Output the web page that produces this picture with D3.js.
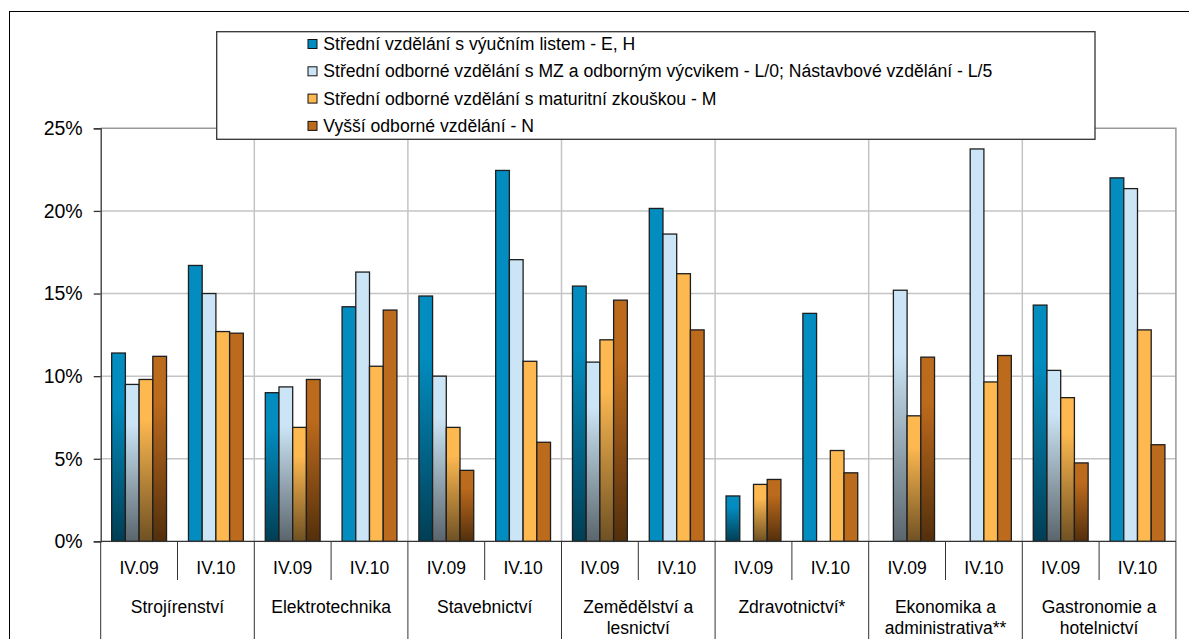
<!DOCTYPE html>
<html>
<head>
<meta charset="utf-8">
<script src="https://cdn.jsdelivr.net/npm/d3@7"></script>
<style>
  body { margin: 0; background: #fff; }
  svg { display: block; font-family: "Liberation Sans", Arial, sans-serif; }
</style>
</head>
<body>
<div id="chart"></div>
<script>
// data (values in %)
var groups = ["Strojírenství", "Elektrotechnika", "Stavebnictví", "Zemědělství a\nlesnictví",
              "Zdravotnictví*", "Ekonomika a\nadministrativa**", "Gastronomie a\nhotelnictví"];
var periods = ["IV.09", "IV.10"];
var seriesNames = [
    "Střední vzdělání s výučním listem - E, H",
    "Střední odborné vzdělání s MZ a odborným výcvikem - L/0; Nástavbové vzdělání - L/5",
    "Střední odborné vzdělání s maturitní zkouškou - M",
    "Vyšší odborné vzdělání - N"
];
// one value per group/period pair, in group order: IV.09, IV.10, IV.09, IV.10 ...
var seriesEH  = [11.4, 16.7, 9.0, 14.2, 14.85, 22.45, 15.45, 20.15, 2.75, 13.8, null, null, 14.3, 22.0];
var seriesL   = [9.5, 15.0, 9.35, 16.3, 10.0, 17.05, 10.85, 18.6, null, null, 15.2, 23.75, 10.35, 21.35];
var seriesM   = [9.8, 12.7, 6.9, 10.6, 6.9, 10.9, 12.2, 16.2, 3.45, 5.5, 7.6, 9.65, 8.7, 12.8];
var seriesN   = [11.2, 12.6, 9.8, 14.0, 4.3, 6.0, 14.6, 12.8, 3.75, 4.15, 11.15, 11.25, 4.75, 5.85];
var yTicks = [0, 5, 10, 15, 20, 25];

var colors = ["#028cbf", "#cce5f6", "#fdb850", "#bc6a1c"];

(function() {
    var seriesValues = [seriesEH, seriesL, seriesM, seriesN];

    var width = 1189, height = 639;
    var plotLeft = 100.7, plotRight = 1175.9, plotTop = 128.3, plotBottom = 541.4;

    var svg = d3.select("#chart").append("svg")
        .attr("width", width).attr("height", height);

    // IV.09 bars fade to dark at the bottom
    var defs = svg.append("defs");
    colors.forEach(function(c, i) {
        var g = defs.append("linearGradient").attr("id", "grad" + i)
            .attr("x1", 0).attr("y1", 0).attr("x2", 0).attr("y2", 1);
        g.append("stop").attr("offset", "0%").attr("stop-color", c);
        g.append("stop").attr("offset", "25%").attr("stop-color", c);
        g.append("stop").attr("offset", "100%").attr("stop-color", d3.color(c).darker(2.3));
    });

    // outer chart frame (cut by the picture's right and bottom edge)
    svg.append("rect")
        .attr("x", 9.5).attr("y", 11.5).attr("width", 1300).attr("height", 800)
        .attr("fill", "none").attr("stroke", "#000").attr("stroke-width", 1);

    var x0 = d3.scaleBand().domain(groups).range([plotLeft, plotRight]);
    var x1 = d3.scaleBand().domain(periods).range([0, x0.bandwidth()]);
    var x2 = d3.scaleBand().domain(d3.range(seriesNames.length))
        .range([0, x1.bandwidth()]).paddingOuter(0.8);
    var y = d3.scaleLinear().domain([0, 25]).range([plotBottom, plotTop]);

    // horizontal gridlines
    svg.append("g").selectAll("line")
        .data(yTicks.filter(function(d) { return d > 0 && d < 25; }))
        .join("line")
        .attr("x1", plotLeft).attr("x2", plotRight)
        .attr("y1", function(d) { return y(d); }).attr("y2", function(d) { return y(d); })
        .attr("stroke", "#c4c4c4").attr("stroke-width", 1.5);

    // vertical gridlines between groups
    svg.append("g").selectAll("line")
        .data(groups.slice(1))
        .join("line")
        .attr("x1", function(d) { return x0(d); }).attr("x2", function(d) { return x0(d); })
        .attr("y1", plotTop).attr("y2", plotBottom)
        .attr("stroke", "#c4c4c4").attr("stroke-width", 1.5);

    // plot area border (top, right)
    svg.append("path")
        .attr("d", "M" + plotLeft + "," + plotTop + "H" + plotRight + "V" + plotBottom)
        .attr("fill", "none").attr("stroke", "#999").attr("stroke-width", 1.5);

    // bars
    var cells = [];
    groups.forEach(function(g, gi) {
        periods.forEach(function(p, pi) {
            seriesValues.forEach(function(vals, si) {
                var v = vals[gi * 2 + pi];
                if (v != null) cells.push({ group: g, period: p, series: si, value: v, grad: pi === 0 });
            });
        });
    });

    svg.append("g").selectAll("rect")
        .data(cells)
        .join("rect")
        .attr("x", function(d) { return x0(d.group) + x1(d.period) + x2(d.series); })
        .attr("width", x2.bandwidth())
        .attr("y", function(d) { return y(d.value); })
        .attr("height", function(d) { return y(0) - y(d.value); })
        .attr("fill", function(d) { return d.grad ? "url(#grad" + d.series + ")" : colors[d.series]; })
        .attr("stroke", "#1e1e1e").attr("stroke-width", 1.3);

    // y axis
    var yAxis = svg.append("g")
        .attr("transform", "translate(" + plotLeft + ",0)")
        .call(d3.axisLeft(y).tickValues(yTicks).tickSize(7).tickPadding(11)
            .tickFormat(function(d) { return d + "%"; }));
    yAxis.select(".domain").attr("stroke", "#333").attr("stroke-width", 1.3);
    yAxis.selectAll(".tick line").attr("stroke", "#333").attr("stroke-width", 1.3);
    yAxis.selectAll(".tick text")
        .attr("font-size", 19.5).attr("fill", "#000")
        .style("font-family", "'Liberation Sans', Arial, sans-serif");

    // x axis line and separators
    svg.append("line")
        .attr("x1", plotLeft).attr("x2", plotRight).attr("y1", plotBottom).attr("y2", plotBottom)
        .attr("stroke", "#333").attr("stroke-width", 1.3);

    svg.append("g").selectAll("line")
        .data(groups)
        .join("line")
        .attr("x1", function(d) { return x0(d) + x1.bandwidth(); })
        .attr("x2", function(d) { return x0(d) + x1.bandwidth(); })
        .attr("y1", plotBottom).attr("y2", 580)
        .attr("stroke", "#333").attr("stroke-width", 1);

    svg.append("g").selectAll("line")
        .data(groups.concat([null]))
        .join("line")
        .attr("x1", function(d) { return d ? x0(d) : plotRight; })
        .attr("x2", function(d) { return d ? x0(d) : plotRight; })
        .attr("y1", plotBottom).attr("y2", height)
        .attr("stroke", "#333").attr("stroke-width", 1);

    // period labels
    var periodCells = [];
    groups.forEach(function(g) { periods.forEach(function(p) { periodCells.push({ g: g, p: p }); }); });
    svg.append("g").selectAll("text")
        .data(periodCells)
        .join("text")
        .attr("x", function(d) { return x0(d.g) + x1(d.p) + x1.bandwidth() / 2; })
        .attr("y", 568)
        .attr("dy", "0.35em")
        .attr("text-anchor", "middle")
        .attr("font-size", 17.5)
        .text(function(d) { return d.p; });

    // group labels (may wrap to two lines)
    svg.append("g").selectAll("text")
        .data(groups)
        .join("text")
        .attr("x", function(d) { return x0(d) + x0.bandwidth() / 2; })
        .attr("y", 606.7)
        .attr("text-anchor", "middle")
        .attr("font-size", 17.5)
        .each(function(d) {
            var t = d3.select(this);
            d.split("\n").forEach(function(line, i) {
                t.append("tspan")
                    .attr("x", x0(d) + x0.bandwidth() / 2)
                    .attr("dy", i === 0 ? "0.35em" : 21.5)
                    .text(line);
            });
        });

    // legend
    var legend = svg.append("g");
    legend.append("rect")
        .attr("x", 216.7).attr("y", 31.7).attr("width", 878.3).attr("height", 107.6)
        .attr("fill", "#fff").attr("stroke", "#333").attr("stroke-width", 1.3);

    var legendRows = legend.selectAll("g.item")
        .data(seriesNames)
        .join("g")
        .attr("class", "item")
        .attr("transform", function(d, i) { return "translate(308," + (44 + i * 27.3) + ")"; });

    legendRows.append("rect")
        .attr("x", 0).attr("y", -4.5).attr("width", 9).attr("height", 9)
        .attr("fill", function(d, i) { return colors[i]; })
        .attr("stroke", "#111").attr("stroke-width", 1);

    legendRows.append("text")
        .attr("x", 15.3).attr("dy", "0.35em")
        .attr("font-size", 17.6)
        .text(function(d) { return d; });
})();
</script>
</body>
</html>
